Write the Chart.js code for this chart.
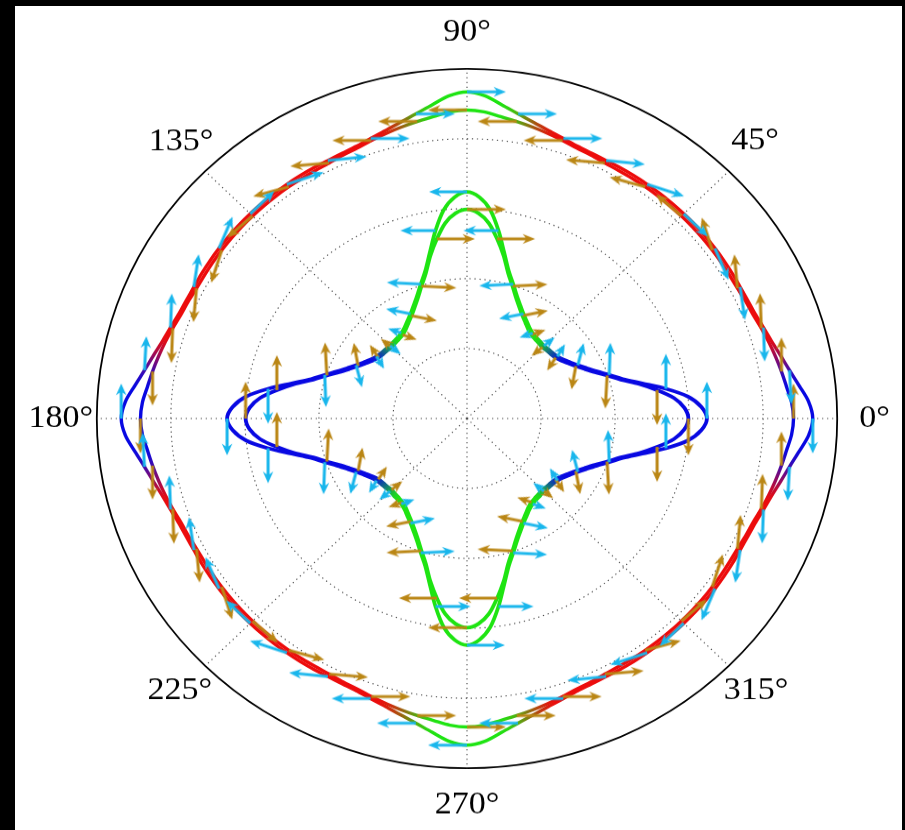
<!DOCTYPE html>
<html lang="en">
<head>
<meta charset="utf-8">
<title>Polar curves with polarisation arrows</title>
<script src="https://cdn.jsdelivr.net/npm/chart.js@4.4.1/dist/chart.umd.min.js"></script>
<style>
  html, body { margin: 0; padding: 0; width: 905px; height: 830px; overflow: hidden; background: #000; }
  #sheet { position: absolute; left: 15px; top: 6px; width: 887px; height: 824px; background: #fff; }
  #plot { position: absolute; left: -43px; top: 0; width: 1020px; height: 883px;
          transform: scaleY(0.9447); transform-origin: 0 0; }
</style>
</head>
<body>
<div id="sheet"></div>
<div id="plot"><canvas id="polar" width="1020" height="883"></canvas></div>
<script>
// ---------------------------------------------------------------- data
const thetaTickLabels = ['0°', '45°', '90°', '135°', '180°', '225°', '270°', '315°'];
const rStepDeg = 3;      // radius tables: one value every 3°, from 0° to 90°
const arrowStepDeg = 9;  // arrow tables: one entry every 9°, from 0° to 90°

// radius of each branch, 0°..90° (the other quadrants are mirror images)
const outerBranchA = [4.67, 4.62, 4.51, 4.41, 4.33, 4.26, 4.21, 4.17, 4.15, 4.14, 4.14,
                      4.14, 4.14, 4.14, 4.14, 4.14, 4.14, 4.14, 4.14, 4.14, 4.14,
                      4.14, 4.15, 4.17, 4.21, 4.26, 4.33, 4.41, 4.51, 4.62, 4.67];
const outerBranchB = [4.41, 4.39, 4.34, 4.30, 4.26, 4.22, 4.18, 4.14, 4.12, 4.10, 4.095,
                      4.095, 4.095, 4.095, 4.095, 4.095, 4.095, 4.095, 4.095, 4.095, 4.095,
                      4.10, 4.12, 4.14, 4.18, 4.22, 4.26, 4.30, 4.34, 4.39, 4.41];
const innerBranchA = [3.24, 3.17, 3.00, 2.72, 2.42, 2.18, 2.02, 1.88, 1.77, 1.68, 1.61,
                      1.55, 1.51, 1.49, 1.48, 1.47, 1.48, 1.49, 1.51, 1.55, 1.61,
                      1.68, 1.77, 1.88, 2.02, 2.18, 2.42, 2.72, 3.00, 3.17, 3.24];
const innerBranchB = [2.99, 2.94, 2.81, 2.60, 2.38, 2.15, 1.99, 1.85, 1.74, 1.65, 1.58,
                      1.52, 1.48, 1.46, 1.45, 1.44, 1.45, 1.46, 1.48, 1.52, 1.58,
                      1.65, 1.74, 1.85, 1.99, 2.15, 2.38, 2.60, 2.81, 2.94, 2.99];

// arrow heading (degrees, counter-clockwise from +x) at 0°, 9°, ..., 90°
const outerArrowsA = [-90, -87, -88, -82, -68, -45, -19, -6, 0, 0, 0];
const outerArrowsB = [90, 90, 92, 95, 107, 138, 164, 175, 180, 180, 180];
const innerArrowsA = [90, 90, 88, 76, 60, 40, 200, 192, 183, 180, 180];
const innerArrowsB = [-90, -90, -93, -100, -122, -140, 20, 12, 3, 0, 0];

// in-plane arrow magnitude (1 = full length) at 0°, 9°, ..., 90°
const outerMagA = [0.95, 0.92, 0.92, 0.9, 0.92, 0.86, 1, 1, 1, 1, 1];
const outerMagB = [0.95, 0.92, 0.94, 0.92, 0.92, 0.88, 0.95, 1, 1, 1, 1];
const innerMagA = [1, 0.95, 0.88, 0.62, 0.38, 0.32, 0.35, 0.65, 0.86, 0.9, 0.97];
const innerMagB = [1, 0.96, 0.9, 0.64, 0.42, 0.34, 0.38, 0.67, 0.9, 0.97, 1];

// ------------------------------------------------------------ helpers
// spoke i sits at polar angle 90° - 3i (spoke 0 points straight up)
const spokeCount = 360 / rStepDeg;
const spokeTheta = Array.from({ length: spokeCount }, (_, i) => (450 - i * rStepDeg) % 360);
const spokeLabels = spokeTheta.map(t => (t % 45 === 0 ? thetaTickLabels[t / 45] : ''));

// a branch is symmetric about both axes: fold any angle back into 0°..90°
function mirrorLookup(table, stepDeg, theta) {
  const t = ((theta % 180) + 180) % 180;
  const a = t <= 90 ? t : 180 - t;
  return table[Math.round(a / stepDeg)];
}
// arrows keep their sense of rotation when the quadrant is mirrored
function arrowHeading(table, theta) {
  const th = ((theta % 360) + 360) % 360;
  if (th <= 90) return table[th / arrowStepDeg];
  if (th <= 180) return -table[(180 - th) / arrowStepDeg];
  if (th <= 270) return table[(th - 180) / arrowStepDeg] + 180;
  return 180 - table[(360 - th) / arrowStepDeg];
}

// ------------------------------------------------------------- styling
const CYAN = 'rgb(24, 182, 236)';
const BROWN = 'rgb(186, 134, 20)';
const BLUE = [8, 8, 226], GREEN = [30, 228, 18], RED = [236, 12, 12];
const LABEL_FONT = "'Liberation Serif', 'Times New Roman', serif";
const ARROW_LEN = 39;

const smooth = (a, b, x) => { const t = Math.min(1, Math.max(0, (x - a) / (b - a))); return t * t * (3 - 2 * t); };
const rgbOf = c => `rgb(${Math.round(c[0])}, ${Math.round(c[1])}, ${Math.round(c[2])})`;

// blue near the horizontal axis, green near the vertical one, red in between (outer pair)
function shadeAt(theta, kind) {
  const t = ((theta % 180) + 180) % 180;
  const d = t <= 90 ? t : 180 - t;
  if (kind === 'inner') {
    const k = smooth(31, 52, d);
    return rgbOf(BLUE.map((v, j) => v * (1 - k) + GREEN[j] * k));
  }
  const wb = 1 - smooth(5, 17, d);
  const wg = 1 - smooth(5, 17, 90 - d);
  const wr = Math.max(0, 1 - wb - wg);
  return rgbOf(BLUE.map((v, j) => v * wb + GREEN[j] * wg + RED[j] * wr));
}

const gradientCache = {};
function ringGradient(chart, kind) {
  const sc = chart.scales.r;
  const ctx = chart.ctx;
  if (!sc || sc.xCenter === undefined || !ctx.createConicGradient) {
    return kind === 'inner' ? rgbOf(BLUE) : rgbOf(RED);
  }
  const key = kind + ':' + sc.xCenter + ':' + sc.yCenter;
  if (!gradientCache[key]) {
    const g = ctx.createConicGradient(0, sc.xCenter, sc.yCenter);
    for (let k = 0; k <= 360; k++) g.addColorStop(k / 360, shadeAt((360 - k) % 360, kind));
    gradientCache[key] = g;
  }
  return gradientCache[key];
}

// arrow sprite: tail at the sprite centre, head pointing along +x
const spriteCache = {};
function arrowSprite(color, len) {
  const L = Math.max(14, Math.round(len));
  const key = color + L;
  if (spriteCache[key]) return spriteCache[key];
  const head = 12.5, half = 5.2, notch = 9.5, shaft = 3.0;
  const c = document.createElement('canvas');
  c.width = 2 * L + 4; c.height = 16;
  const g = c.getContext('2d');
  const cx = c.width / 2, cy = c.height / 2;
  g.fillStyle = color;
  g.beginPath();
  g.moveTo(cx, cy - shaft / 2);
  g.lineTo(cx + L - notch, cy - shaft / 2);
  g.lineTo(cx + L - head, cy - half);
  g.lineTo(cx + L, cy);
  g.lineTo(cx + L - head, cy + half);
  g.lineTo(cx + L - notch, cy + shaft / 2);
  g.lineTo(cx, cy + shaft / 2);
  g.closePath();
  g.fill();
  spriteCache[key] = c;
  return c;
}

function curveSet(table, kind, width) {
  return {
    data: spokeTheta.map(t => mirrorLookup(table, rStepDeg, t)),
    borderColor: c => ringGradient(c.chart, kind),
    borderWidth: width,
    tension: 0.32,
    fill: false,
    pointRadius: 0,
    order: 2
  };
}
function arrowSet(table, headings, mags, color) {
  const onArrow = t => t % arrowStepDeg === 0;
  return {
    data: spokeTheta.map(t => (onArrow(t) ? mirrorLookup(table, rStepDeg, t) : null)),
    showLine: false,
    fill: false,
    pointStyle: spokeTheta.map(t => arrowSprite(color, ARROW_LEN * (onArrow(t) ? mirrorLookup(mags, arrowStepDeg, t) : 1))),
    pointRadius: 6,
    pointRotation: spokeTheta.map(t => (onArrow(t) ? -arrowHeading(headings, t) : 0)),
    order: 1
  };
}

// label placement around the rim
const labelPad = { '0°': 22, '45°': 3.4, '90°': 18, '135°': -11.4, '180°': 3.7, '225°': -9.6, '270°': 18, '315°': -7.2 };
const labelLineHeight = { '45°': 1.735, '135°': 2.335, '225°': 1.97, '315°': 1.87 };

new Chart(document.getElementById('polar'), {
  type: 'radar',
  data: {
    labels: spokeLabels,
    datasets: [
      curveSet(outerBranchA, 'outer', 3.4),
      curveSet(outerBranchB, 'outer', 3.4),
      curveSet(innerBranchA, 'inner', 3.8),
      curveSet(innerBranchB, 'inner', 3.8),
      arrowSet(outerBranchA, outerArrowsA, outerMagA, CYAN),
      arrowSet(outerBranchB, outerArrowsB, outerMagB, BROWN),
      arrowSet(innerBranchA, innerArrowsA, innerMagA, CYAN),
      arrowSet(innerBranchB, innerArrowsB, innerMagB, BROWN)
    ]
  },
  options: {
    responsive: false,
    animation: false,
    devicePixelRatio: 1,
    events: [],
    layout: { padding: { top: 14, bottom: 11, left: 0, right: 0 } },
    plugins: { legend: { display: false }, tooltip: { enabled: false } },
    scales: {
      r: {
        min: 0,
        max: 5,
        startAngle: 0,
        ticks: { display: false, stepSize: 1 },
        grid: {
          circular: true,
          color: c => (c.tick && c.tick.value === 5 ? '#000' : '#505050'),
          lineWidth: c => (c.tick && c.tick.value === 5 ? 1.8 : 1.15)
        },
        border: { dash: c => (c.tick && c.tick.value === 5 ? [] : [1.3, 3.7]) },
        angleLines: {
          color: c => (c.index % 15 === 0 ? '#505050' : 'rgba(0,0,0,0)'),
          lineWidth: c => (c.index % 15 === 0 ? 1.15 : 0),
          borderDash: [1.3, 3.7]
        },
        pointLabels: {
          display: true,
          color: '#000',
          padding: c => (labelPad[c.label] !== undefined ? labelPad[c.label] : 0),
          font: c => ({ family: LABEL_FONT, size: 34, lineHeight: labelLineHeight[c.label] || 1.2 })
        }
      }
    }
  }
});
</script>
</body>
</html>
